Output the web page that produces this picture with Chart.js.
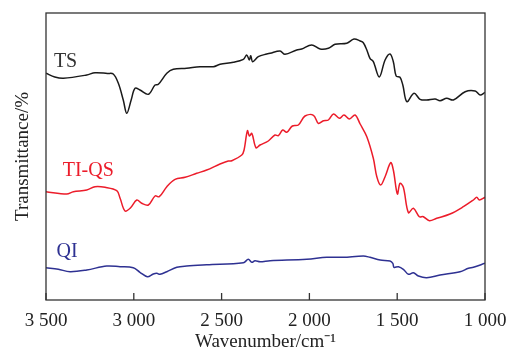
<!DOCTYPE html>
<html>
<head>
<meta charset="utf-8">
<script src="https://cdn.jsdelivr.net/npm/chart.js@4.4.1/dist/chart.umd.min.js"></script>
<style>
  html, body { margin: 0; padding: 0; background: #fff; }
  #wrap { width: 508px; height: 360px; }
</style>
</head>
<body>
<div id="wrap"><canvas id="ir"></canvas></div>
<script>
// IR spectra: wavenumber (cm-1) and relative transmittance (offset stack, arbitrary units)
const tsWave = [3500, 3450, 3401, 3268, 3221, 3150, 3117, 3088, 3060, 3040, 3015, 2993, 2965, 2917, 2879, 2860, 2812, 2775, 2699, 2623, 2547, 2509, 2433, 2376, 2357, 2342, 2334, 2323, 2291, 2243, 2224, 2167, 2139, 2072, 2044, 1987, 1939, 1892, 1854, 1787, 1746, 1711, 1693, 1673, 1655, 1636, 1602, 1569, 1541, 1522, 1506, 1484, 1468, 1445, 1404, 1370, 1332, 1284, 1256, 1218, 1180, 1113, 1056, 1028, 1000];
const tsTrans = [226.7, 223, 221.7, 225, 227.3, 226.5, 226, 216.7, 200, 186.7, 200, 211.7, 210, 205.7, 215, 215.7, 226.7, 230.7, 231.7, 233.3, 233.3, 235.7, 237.7, 240.7, 245, 240, 244.3, 238.3, 243.3, 246, 246.7, 249, 245.7, 250, 251, 255, 251, 251.7, 255.7, 256.7, 261, 259, 257.3, 250, 241.7, 238.3, 223, 240, 246, 238.3, 224, 222.7, 215, 198.3, 206.7, 200.7, 200, 201, 199.3, 201.7, 200, 208.3, 209, 205, 207.5];

const tiqsWave = [3500, 3382, 3344, 3268, 3221, 3164, 3097, 3078, 3050, 3021, 2983, 2955, 2917, 2879, 2855, 2812, 2765, 2708, 2642, 2585, 2509, 2462, 2442, 2385, 2372, 2353, 2342, 2328, 2304, 2281, 2234, 2196, 2177, 2152, 2129, 2097, 2063, 2025, 1977, 1949, 1920, 1892, 1863, 1829, 1803, 1772, 1740, 1711, 1673, 1636, 1616, 1594, 1569, 1537, 1522, 1499, 1484, 1465, 1436, 1408, 1374, 1351, 1317, 1275, 1199, 1123, 1066, 1047, 1032, 1000];
const tiqsTrans = [108.3, 106, 108.3, 110, 113.3, 112.7, 109.3, 101.7, 89, 91.7, 100, 96.7, 95, 104, 103.3, 113.3, 120.7, 122.7, 126.7, 130, 136, 139, 139.3, 145, 150, 169.3, 164, 166.7, 152.3, 155, 159, 165, 164.3, 170, 167.7, 174, 175, 184, 184.7, 176.7, 179.3, 180, 186, 181.7, 185, 181, 185, 176, 163.3, 141.7, 123.3, 115, 123.3, 137.3, 130, 106, 116.7, 112.7, 87.3, 91.7, 83.3, 83.3, 79.3, 81.7, 86, 93.3, 100, 102.7, 100, 102.7];

const qiWave = [3500, 3430, 3363, 3268, 3154, 3078, 3003, 2965, 2923, 2889, 2869, 2851, 2812, 2755, 2699, 2585, 2376, 2348, 2328, 2310, 2281, 2224, 2015, 1901, 1807, 1693, 1655, 1597, 1541, 1525, 1518, 1493, 1465, 1436, 1408, 1379, 1332, 1256, 1142, 1094, 1066, 1000];
const qiTrans = [32.3, 30.7, 28.3, 30, 34, 33.3, 32.3, 27.7, 23.3, 26, 26.7, 25.7, 28.3, 32.7, 34, 35.3, 37.3, 40.7, 37.7, 39.3, 38.3, 39.3, 40.7, 42.7, 42.7, 44, 42.7, 40, 39, 36.7, 32.7, 33.3, 30.7, 25.7, 27.3, 24, 22.3, 25, 28.3, 31.7, 32.7, 36.7];

const seriesNames = ['TS', 'TI-QS', 'QI'];
const seriesColors = ['#1a1a1a', '#ec1c2a', '#2e3192'];
// where each curve's name sits (wavenumber, transmittance)
const labelAnchors = [[3455, 238], [3405, 129], [3440, 48]];

const xTicks = [3500, 3000, 2500, 2000, 1500, 1000];

const toPoints = (w, t) => w.map((x, i) => ({ x: x, y: t[i] }));
const serif = '"Liberation Serif", "Times New Roman", serif';

function fmtWave(v) {
  if (v >= 1000) {
    return Math.floor(v / 1000) + ' ' + String(v % 1000).padStart(3, '0');
  }
  return String(v);
}

// Frame on all four sides, inward ticks on the bottom axis and the curve names
const framePlugin = {
  id: 'frame',
  afterDraw(chart) {
    const { ctx, chartArea: a, scales } = chart;
    ctx.save();
    ctx.strokeStyle = '#333';
    ctx.lineWidth = 1.3;
    ctx.strokeRect(a.left, a.top, a.right - a.left, a.bottom - a.top);
    ctx.beginPath();
    scales.x.ticks.forEach(t => {
      const px = scales.x.getPixelForValue(t.value);
      ctx.moveTo(px, a.bottom);
      ctx.lineTo(px, a.bottom - 7);
    });
    ctx.stroke();
    ctx.font = '20px ' + serif;
    ctx.textBaseline = 'middle';
    ctx.textAlign = 'left';
    seriesNames.forEach((name, i) => {
      const [w, t] = labelAnchors[i];
      ctx.fillStyle = i === 0 ? '#333' : seriesColors[i];
      ctx.fillText(name, scales.x.getPixelForValue(w), scales.y.getPixelForValue(t));
    });
    ctx.restore();
  }
};

const datasets = [
  toPoints(tsWave, tsTrans),
  toPoints(tiqsWave, tiqsTrans),
  toPoints(qiWave, qiTrans)
].map((pts, i) => ({
  label: seriesNames[i],
  data: pts,
  borderColor: seriesColors[i],
  borderWidth: 1.5,
  pointRadius: 0,
  tension: 0.35,
  fill: false
}));

new Chart(document.getElementById('ir'), {
  type: 'line',
  data: { datasets },
  plugins: [framePlugin],
  options: {
    responsive: true,
    maintainAspectRatio: false,
    animation: false,
    events: [],
    layout: { padding: { top: 13, right: 23, left: 0, bottom: 7 } },
    plugins: { legend: { display: false }, tooltip: { enabled: false } },
    scales: {
      x: {
        type: 'linear',
        reverse: true,
        min: 1000,
        max: 3500,
        afterBuildTicks(scale) { scale.ticks = xTicks.map(v => ({ value: v })); },
        afterFit(scale) {
          scale.height = 53;
          // let the last label hang into the outer margin instead of shrinking the plot
          scale.paddingRight = 0;
          scale.paddingLeft = 0;
        },
        grid: { display: false, drawTicks: false },
        border: { display: false },
        ticks: {
          color: '#222',
          font: { family: serif, size: 19 },
          padding: 10,
          maxRotation: 0,
          autoSkip: false,
          callback: v => fmtWave(v)
        },
        title: {
          display: true,
          text: 'Wavenumber/cm\u207B\u00B9',
          color: '#222',
          font: { family: serif, size: 19 },
          padding: { top: 0, bottom: 0 }
        }
      },
      y: {
        min: 0,
        max: 287,
        afterFit(scale) { scale.width = 46; },
        grid: { display: false, drawTicks: false },
        border: { display: false },
        ticks: { display: false },
        title: {
          display: true,
          text: 'Transmittance/%',
          color: '#222',
          font: { family: serif, size: 19 },
          padding: { top: 12, bottom: 0 }
        }
      }
    }
  }
});
</script>
</body>
</html>
